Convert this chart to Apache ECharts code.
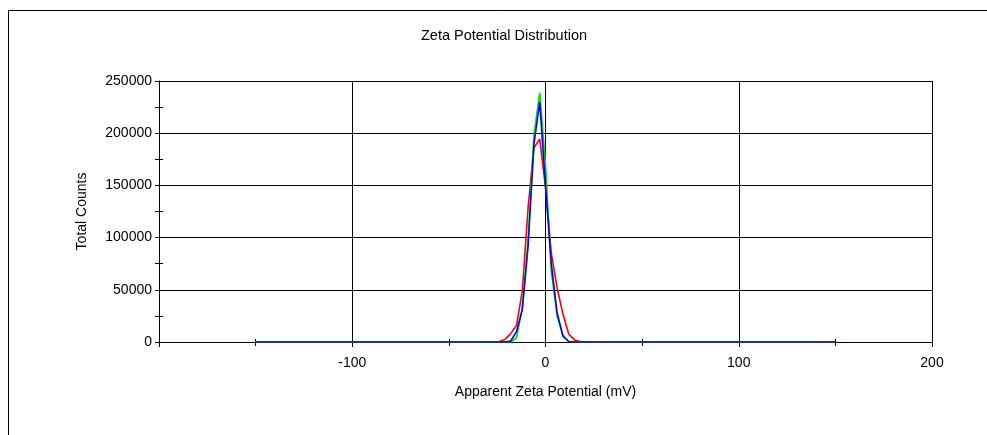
<!DOCTYPE html>
<html>
<head>
<meta charset="utf-8">
<script src="https://cdn.jsdelivr.net/npm/echarts@6/dist/echarts.min.js"></script>
<style>
html,body{margin:0;padding:0;background:#fff;}
#c{width:987px;height:435px;}
</style>
</head>
<body>
<div id="c"></div>
<script>
// Apparent zeta potential (mV)
const zeta = [-150, -27, -24, -21, -18, -15, -12, -9, -6, -3, 0, 3, 6, 9, 12, 15, 18, 21, 150];
// Total counts for the three runs
const redCounts   = [0, 0, 500, 2500, 8000, 16000, 49000, 129000, 186000, 194500, 148000, 85000, 52000, 27000, 7700, 2000, 500, 0, 0];
const greenCounts = [0, 0, 0, 0, 0, 4200, 33000, 98000, 198000, 239000, 170000, 67500, 25000, 6700, 500, 0, 0, 0, 0];
const blueCounts  = [0, 0, 0, 0, 1000, 10000, 31000, 92000, 189000, 230000, 150000, 75000, 28000, 5700, 500, 0, 0, 0, 0];
const xTicks = [-200, -100, 0, 100, 200];
const yTicks = [0, 50000, 100000, 150000, 200000, 250000];

const FONT = 'Liberation Sans, Arial, sans-serif';
const pair = ys => zeta.map((x, i) => [x, ys[i]]);

const chart = echarts.init(document.getElementById('c'), null, {renderer: 'canvas'});
chart.setOption({
  animation: false,
  backgroundColor: '#fff',
  title: {
    text: 'Zeta Potential Distribution',
    left: 421, top: 28, padding: 0,
    textStyle: {fontSize: 14.5, fontWeight: 'normal', color: '#000', fontFamily: FONT}
  },
  graphic: [{
    type: 'rect', silent: true, z: -1,
    shape: {x: 8.5, y: 10.5, width: 1200, height: 800},
    style: {fill: 'none', stroke: '#000', lineWidth: 1}
  }],
  grid: {left: 159, right: 55, top: 81, bottom: 93, containLabel: false},
  xAxis: [{
    type: 'value', min: xTicks[0], max: xTicks[xTicks.length - 1], interval: 100,
    name: 'Apparent Zeta Potential (mV)', nameLocation: 'middle', nameGap: 43,
    nameTextStyle: {fontSize: 14, color: '#000', fontFamily: FONT},
    axisLine: {show: true, onZero: false, lineStyle: {color: '#000', width: 1}},
    axisTick: {show: true, inside: false, length: 5, lineStyle: {color: '#000', width: 1}},
    minorTick: {show: true, splitNumber: 2, length: 4, lineStyle: {color: '#000', width: 1}},
    axisLabel: {show: true, margin: 14, fontSize: 14, color: '#000', fontFamily: FONT, showMinLabel: false},
    splitLine: {show: true, lineStyle: {color: '#000', width: 1}}
  }, {
    type: 'value', min: xTicks[0], max: xTicks[xTicks.length - 1], interval: 50,
    position: 'bottom',
    axisLine: {show: false, onZero: false},
    axisTick: {show: true, inside: true, length: 3, lineStyle: {color: '#000', width: 1}},
    axisLabel: {show: false},
    splitLine: {show: false}
  }],
  yAxis: [{
    type: 'value', min: yTicks[0], max: yTicks[yTicks.length - 1], interval: 50000,
    name: 'Total Counts', nameLocation: 'middle', nameGap: 70, nameRotate: 90,
    nameTextStyle: {fontSize: 14, color: '#000', fontFamily: FONT},
    axisLine: {show: true, onZero: false, lineStyle: {color: '#000', width: 1}},
    axisTick: {show: true, inside: false, length: 4, lineStyle: {color: '#000', width: 1}},
    minorTick: {show: true, splitNumber: 2, length: 4, lineStyle: {color: '#000', width: 1}},
    axisLabel: {show: true, margin: 7, fontSize: 14, color: '#000', fontFamily: FONT,
      formatter: v => String(v)},
    splitLine: {show: true, lineStyle: {color: '#000', width: 1}}
  }, {
    type: 'value', min: yTicks[0], max: yTicks[yTicks.length - 1], interval: 25000,
    position: 'left',
    axisLine: {show: false, onZero: false},
    axisTick: {show: true, inside: true, length: 4, lineStyle: {color: '#000', width: 1}},
    axisLabel: {show: false},
    splitLine: {show: false}
  }],
  series: [
    {type: 'line', data: pair(redCounts), showSymbol: false, symbol: 'none', lineStyle: {color: '#ff0000', width: 1.6}, z: 3},
    {type: 'line', data: pair(greenCounts), showSymbol: false, symbol: 'none', lineStyle: {color: '#00e000', width: 1.6}, z: 4},
    {type: 'line', data: pair(blueCounts), showSymbol: false, symbol: 'none', lineStyle: {color: '#0000ff', width: 1.6}, z: 5}
  ]
});
</script>
</body>
</html>
